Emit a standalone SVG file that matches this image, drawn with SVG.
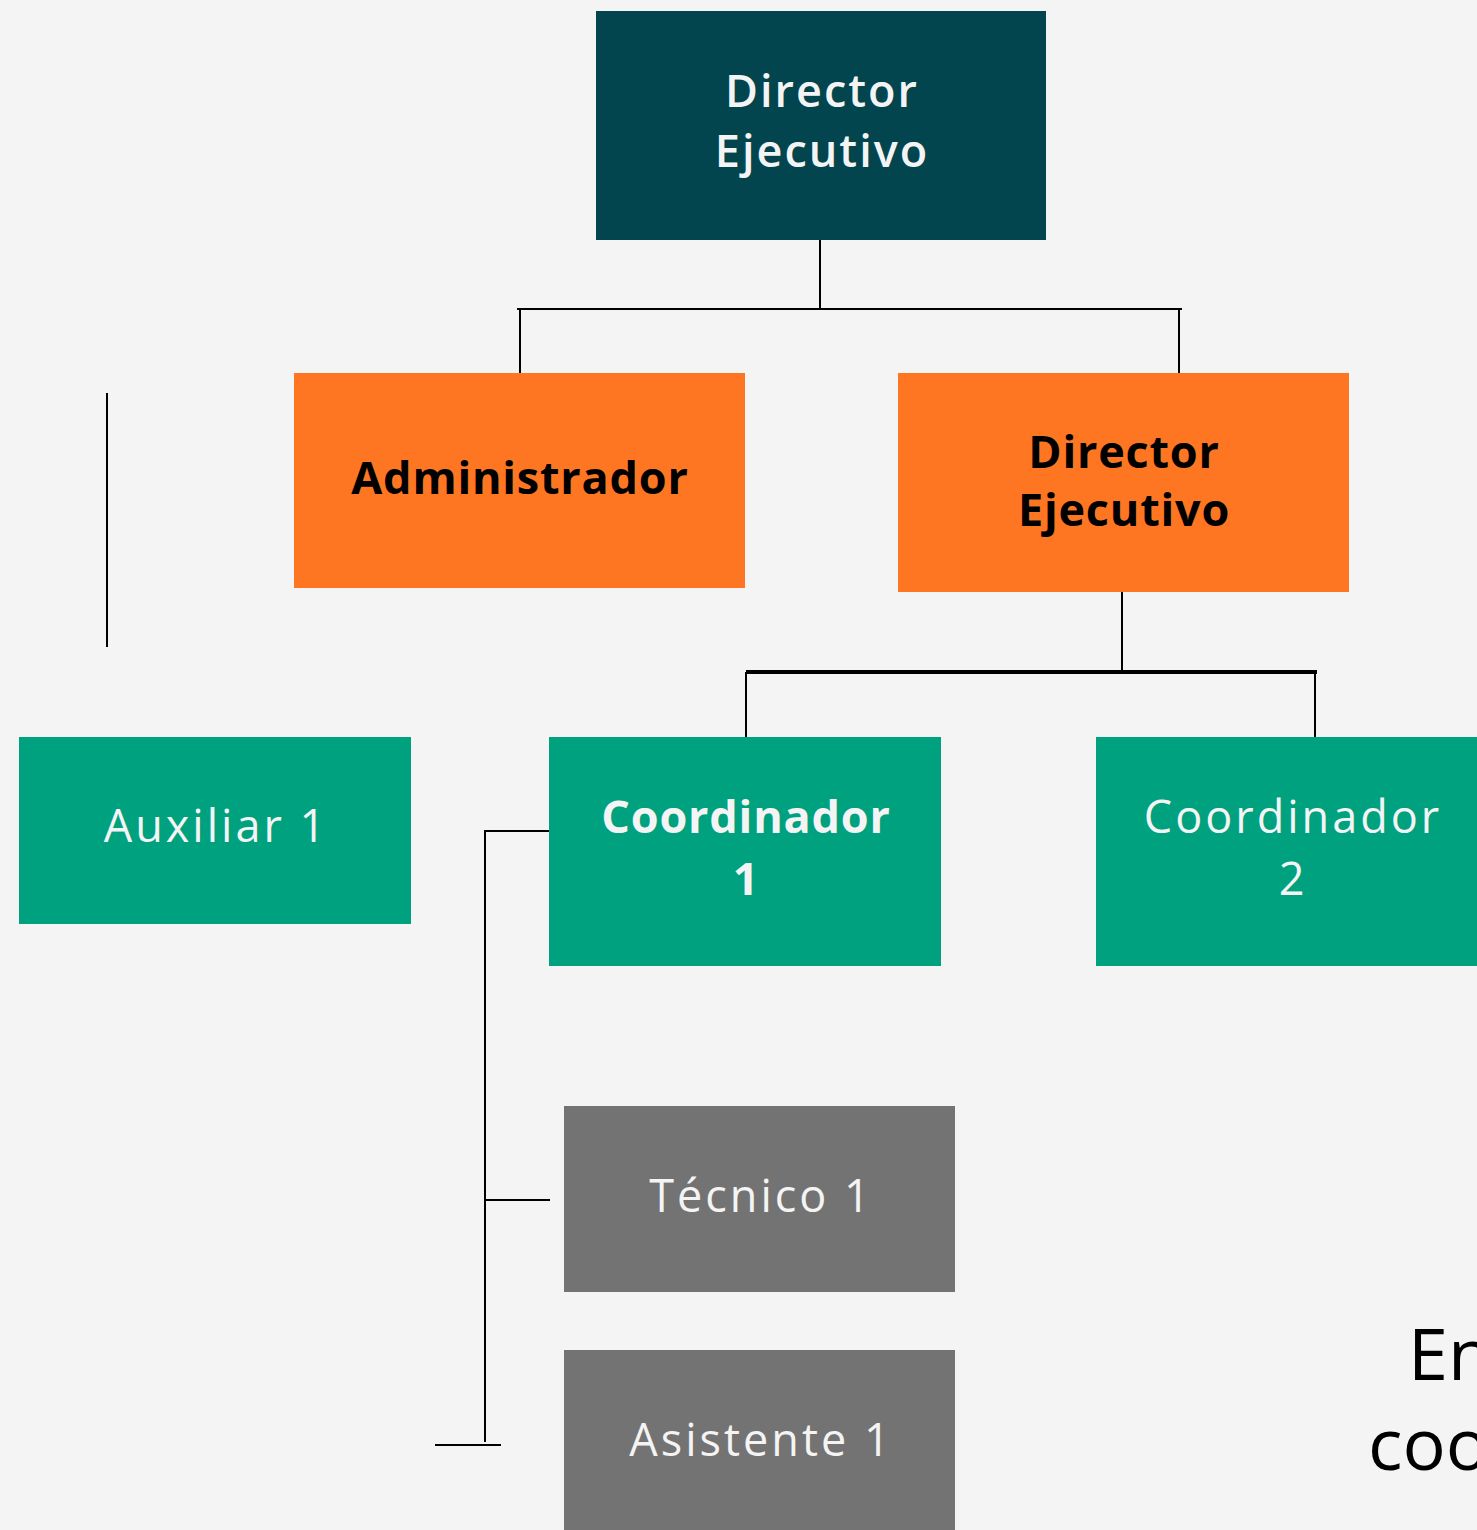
<svg xmlns="http://www.w3.org/2000/svg" width="1477" height="1530" viewBox="0 0 1477 1530">
<style>
.t{font-family:"Open Sans","Noto Sans","Liberation Sans",sans-serif;font-size:45px;text-anchor:middle;letter-spacing:3px}
.w{fill:#f4f4f4}
.k{fill:#000}
.b{font-weight:700;letter-spacing:0.8px}
.sb{font-weight:600;letter-spacing:2px}
.c line{stroke:#000;stroke-width:2}
.dark{fill:#02454f}
.or{fill:#fe7622}
.gr{fill:#00a17f}
.gy{fill:#737373}
</style>
<rect width="1477" height="1530" fill="#f4f4f4"/>
<g class="c" id="connectors">
<line x1="820" y1="240" x2="820" y2="309"/>
<line x1="517" y1="309" x2="1182" y2="309"/>
<line x1="520" y1="309" x2="520" y2="373"/>
<line x1="1179" y1="309" x2="1179" y2="373"/>
<line x1="1122" y1="592" x2="1122" y2="671"/>
<line x1="746" y1="672" x2="1317" y2="672" style="stroke-width:4"/>
<line x1="746" y1="672" x2="746" y2="737"/>
<line x1="1315" y1="672" x2="1315" y2="737"/>
<line x1="107" y1="393" x2="107" y2="647"/>
<line x1="485" y1="831" x2="549" y2="831"/>
<line x1="485" y1="830" x2="485" y2="1442"/>
<line x1="485" y1="1200" x2="550" y2="1200"/>
<line x1="435" y1="1445" x2="501" y2="1445"/>
</g>
<g id="director">
<rect class="dark" x="596" y="11" width="450" height="229"/>
<text class="t w sb" x="822" y="107">Director</text>
<text class="t w sb" x="822" y="167">Ejecutivo</text>
</g>
<g id="administrador">
<rect class="or" x="294" y="373" width="451" height="215"/>
<text class="t k b" x="520" y="494">Administrador</text>
</g>
<g id="director2">
<rect class="or" x="898" y="373" width="451" height="219"/>
<text class="t k b" x="1124" y="468">Director</text>
<text class="t k b" x="1124" y="526">Ejecutivo</text>
</g>
<g id="auxiliar1">
<rect class="gr" x="19" y="737" width="392" height="187"/>
<text class="t w" x="216" y="842">Auxiliar 1</text>
</g>
<g id="coordinador1">
<rect class="gr" x="549" y="737" width="392" height="229"/>
<text class="t w b" x="746" y="833">Coordinador</text>
<text class="t w b" x="746" y="895">1</text>
</g>
<g id="coordinador2">
<rect class="gr" x="1096" y="737" width="392" height="229"/>
<text class="t w" x="1293" y="833">Coordinador</text>
<text class="t w" x="1293" y="895">2</text>
</g>
<g id="tecnico1">
<rect class="gy" x="564" y="1106" width="391" height="186"/>
<text class="t w" x="761" y="1212">Técnico 1</text>
</g>
<g id="asistente1">
<rect class="gy" x="564" y="1350" width="391" height="180"/>
<text class="t w" x="761" y="1456">Asistente 1</text>
</g>
<g id="note" font-family="'Open Sans','Noto Sans',sans-serif" font-size="72" fill="#000">
<text x="1408" y="1380">En</text>
<text x="1368" y="1470">coo</text>
</g>
</svg>
